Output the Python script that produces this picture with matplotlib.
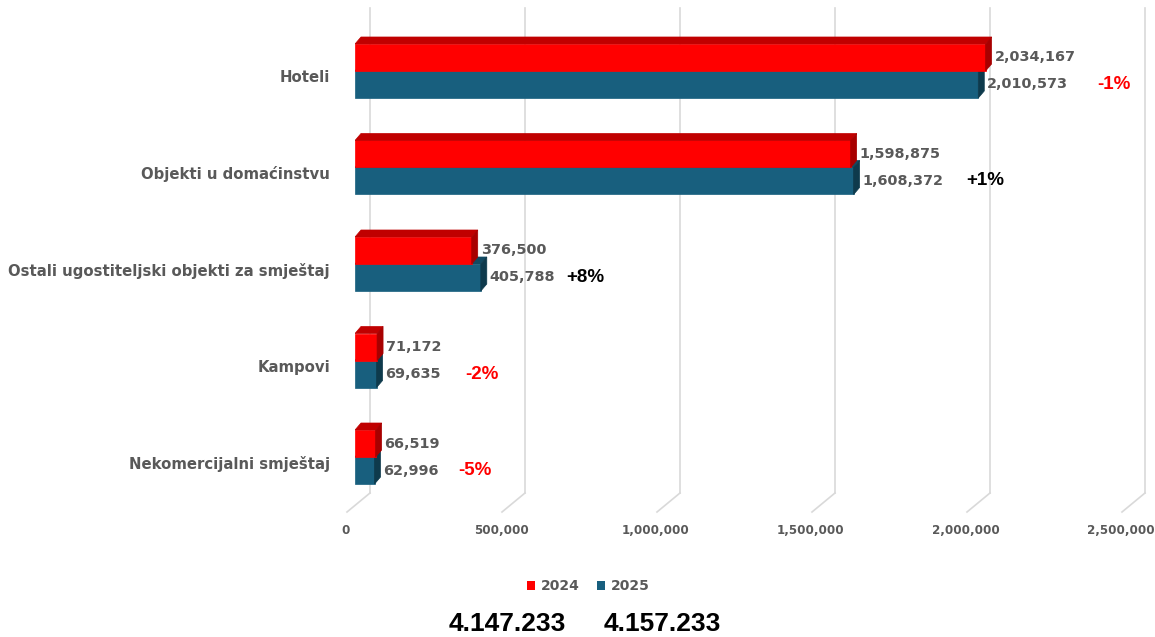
import matplotlib
matplotlib.use("Agg")
import matplotlib.pyplot as plt
from matplotlib.patches import Polygon, Rectangle

plt.rcParams['font.family'] = ['Liberation Sans', 'DejaVu Sans']

# data
categories = ["Hoteli", "Objekti u domaćinstvu", "Ostali ugostiteljski objekti za smještaj",
              "Kampovi", "Nekomercijalni smještaj"]
v2024 = [2034167, 1598875, 376500, 71172, 66519]
v2025 = [2010573, 1608372, 405788, 69635, 62996]
changes = ["-1%", "+1%", "+8%", "-2%", "-5%"]
change_colors = ["#FF0000", "#000000", "#000000", "#FF0000", "#FF0000"]
change_x = [2394000, 1971000, 681000, 355000, 332000]
ticks = [0, 500000, 1000000, 1500000, 2000000, 2500000]
totals = ["4.147.233", "4.157.233"]

W, H = 1155, 637
fig = plt.figure(figsize=(W / 100, H / 100), dpi=100)
ax = fig.add_axes([355 / W, (H - 493) / H, 775 / W, 483 / H])
xmax = 2500000
ytop, ybot = -0.632, 4.373
ax.set_xlim(0, xmax)
ax.set_ylim(ybot, ytop)
ax.axis('off')

PX = xmax / 775.0          # data units per pixel (x)
PY = (ybot - ytop) / 483.0  # data units per pixel (y, downwards)

gray_font = ['DejaVu Sans']
grid_c = "#D9D9D9"
for t in ticks:
    xb = t + 15 * PX
    ax.plot([xb, xb], [ytop - 2 * PY, ybot], color=grid_c, lw=1.2, clip_on=False, zorder=0)
    ax.plot([xb, t - 8 * PX], [ybot, ybot + 19 * PY], color=grid_c, lw=1.2, clip_on=False, zorder=0)
    ax.text(t - 9 * PX, ybot + 37 * PY, f"{t:,}", ha='center', va='center', fontsize=8.6,
            fontweight='bold', color="#595959", clip_on=False, family=gray_font)

bh = 27 * PY
dx, dy = 6 * PX, -7 * PY


def bar3d(v, y0, front, top, side):
    y1 = y0 + bh
    ax.add_patch(Polygon([(0, y0), (v, y0), (v, y1), (0, y1)], closed=True,
                         facecolor=front, edgecolor=front, lw=0.5, zorder=2))
    ax.add_patch(Polygon([(0, y0), (v, y0), (v + dx, y0 + dy), (dx, y0 + dy)], closed=True,
                         facecolor=top, edgecolor=top, lw=0.5, zorder=2))
    ax.add_patch(Polygon([(v, y0), (v + dx, y0 + dy), (v + dx, y1 + dy), (v, y1)], closed=True,
                         facecolor=side, edgecolor=side, lw=0.5, zorder=2))


red, red_top, red_side = "#FF0000", "#C00000", "#A80000"
blue, blue_top, blue_side = "#185F7E", "#124A62", "#0E3A4C"
lab_c = "#595959"

for i, cat in enumerate(categories):
    bar3d(v2025[i], i, blue, blue_top, blue_side)
    bar3d(v2024[i], i - bh, red, red_top, red_side)
    ax.text(v2024[i] + 9 * PX, i - bh / 2, f"{v2024[i]:,}", ha='left', va='center',
            fontsize=10.4, fontweight='bold', color=lab_c, zorder=3, family=gray_font)
    ax.text(v2025[i] + 9 * PX, i + bh / 2, f"{v2025[i]:,}", ha='left', va='center',
            fontsize=10.4, fontweight='bold', color=lab_c, zorder=3, family=gray_font)
    ax.text(change_x[i], i + bh / 2, changes[i], ha='left', va='center',
            fontsize=13.5, fontweight='bold', color=change_colors[i], zorder=3)
    ax.text(-25 * PX, i + 7 * PY, cat, ha='right', va='center', fontsize=10.7,
            fontweight='bold', color=lab_c, clip_on=False, family=gray_font)

# legend
for x0, col, lab in [(527, red, "2024"), (597, blue, "2025")]:
    fig.patches.append(Rectangle((x0 / W, 1 - 590 / H), 8 / W, 9 / H, transform=fig.transFigure,
                                 facecolor=col, edgecolor='none'))
    fig.text((x0 + 14) / W, 1 - 586 / H, lab, color=lab_c, fontsize=10, fontweight='bold',
             ha='left', va='center', family=gray_font)

fig.text(507 / W, 1 - 624 / H, totals[0], fontsize=19, fontweight='bold', ha='center',
         va='center', color="#000000")
fig.text(662 / W, 1 - 624 / H, totals[1], fontsize=19, fontweight='bold', ha='center',
         va='center', color="#000000")

fig.savefig("out.png", dpi=100)
